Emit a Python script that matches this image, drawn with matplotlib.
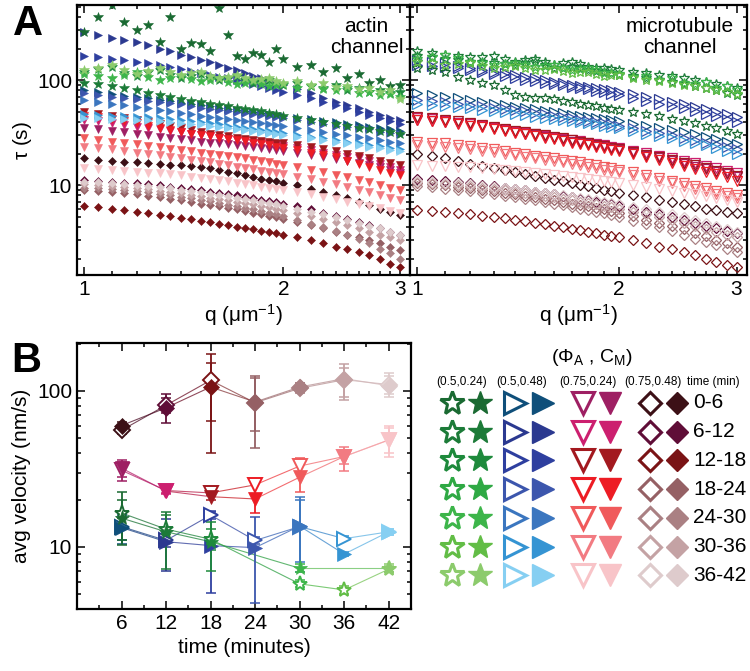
import numpy as np
import matplotlib.pyplot as plt
import matplotlib.ticker as ticker
from matplotlib.colors import to_rgb

plt.rcParams['font.family'] = ['Liberation Sans', 'DejaVu Sans']

# =============================================================================
# DATA
# =============================================================================
# colour per time window (row), one palette per (Phi_A, C_M) condition
time_labels = ['0-6', '6-12', '12-18', '18-24', '24-30', '30-36', '36-42']
cond_labels = ['(0.5,0.24)', '(0.5,0.48)', '(0.75,0.24)', '(0.75,0.48)']
greens = ['#1a6a32', '#1c7b38', '#1e8a3c', '#2fa944', '#3db54a', '#62bd46', '#8ccb6c']
blues = ['#0f4f7a', '#2b3990', '#2e3f9f', '#3c56ad', '#3b76bf', '#3594d3', '#86cff2']
reds = ['#9e1f63', '#cc1f6f', '#a3191f', '#ed1c24', '#f05a5b', '#f27b82', '#f8c4c8']
mauves = ['#3c1016', '#5f0d37', '#7a1315', '#956064', '#aa8083', '#c4a2a4', '#decbcc']

q = [1.0, 1.05, 1.1, 1.15, 1.2, 1.25, 1.3, 1.35, 1.4, 1.45, 1.5, 1.55, 1.6, 1.65,
     1.7, 1.75, 1.8, 1.85, 1.9, 1.95, 2.0, 2.1, 2.2, 2.3, 2.4, 2.5, 2.6, 2.7,
     2.8, 2.9, 3.0]

# ---- panel A, actin channel (filled markers) ----
actin_star_rows = [0, 1, 2, 4, 6]
actin_star = [
    [290, 400, 520, 355, 300, 335, 230, 400, 200, 225, 220, 190, 485, 270, 170, 160, 180, 175, 150, 200, 160,
     135, 140, 120, 130, 105, 115, 95, 100, 88, 90],
    [95, 92, 88, 84, 80, 76, 72, 69, 66, 64, 62, 60, 58, 56.5, 55, 53.5, 52, 50.5, 49, 47.5, 46,
     44, 42, 40, 38.5, 37, 35, 34, 33, 32, 31],
    [120, 128, 135, 118, 110, 120, 125, 112, 105, 110, 115, 104, 100, 106, 110, 100, 95, 98, 100, 93, 90,
     95, 88, 85, 90, 80, 84, 78, 80, 75, 78],
    [115, 110, 105, 112, 120, 108, 100, 104, 110, 102, 98, 100, 104, 96, 92, 95, 98, 92, 88, 90, 92,
     85, 88, 82, 80, 84, 76, 78, 72, 74, 70],
    [125, 132, 140, 125, 115, 122, 130, 120, 112, 116, 120, 110, 105, 108, 112, 104, 100, 102, 104, 98, 95,
     98, 90, 94, 86, 88, 82, 84, 78, 80, 66],
]
actin_tri_rows = [0, 1, 2, 3, 4, 5, 6]
actin_tri = [
    [80, 77, 74, 71, 69, 67, 65, 63, 61, 59.5, 58, 56.5, 55, 53.5, 52, 51, 50, 49, 48, 47, 46,
     44, 42.5, 41, 39.7, 38.4, 37.3, 36.2, 35.1, 34.2, 33.2],
    [290, 270, 250, 240, 230, 215, 200, 188, 175, 165, 155, 148, 140, 132, 125, 118, 110, 105, 100, 95, 90,
     82, 75, 68, 62, 58, 54, 50, 47, 44, 42],
    [170, 165, 160, 155, 150, 145, 140, 134, 128, 123, 118, 113, 108, 104, 100, 96, 92, 88, 85, 81, 78,
     72, 67, 62, 58, 54, 50, 47, 44, 41, 38],
    [75, 72, 70, 68, 66, 64, 62, 60.5, 59, 57, 55, 53.5, 52, 51, 50, 48.7, 47.5, 46.5, 45.5, 44.5, 43.5,
     42, 40, 38.5, 37, 36, 35, 34, 32.5, 31.5, 30.5],
    [65, 62, 60, 58, 56, 54, 52, 50.5, 49, 47.5, 46, 45, 44, 43, 42, 41, 40, 39, 38, 37.2, 36.5,
     35, 33.5, 32, 31, 30, 29, 28, 27, 26, 25],
    [48, 47, 46, 45.5, 45, 44.5, 44, 43, 42, 41, 40, 39, 38, 37, 36, 35.2, 34.5, 33.7, 33, 32.2, 31.5,
     30, 29, 28, 27, 26, 25, 24.2, 23.5, 22.8, 22],
    [44, 43.5, 43, 42.5, 42, 41.5, 41, 40.2, 39.5, 38.7, 38, 37, 36, 35.2, 34.5, 33.7, 33, 32.2, 31.5, 30.7, 30,
     29, 28, 27, 26, 25, 24, 23, 22.5, 21.8, 21],
]
actin_down_rows = [0, 1, 2, 3, 4, 5, 6]
actin_down = [
    [35, 34, 33, 32, 31, 30, 29, 28.2, 27.5, 26.7, 26, 25.5, 25, 24.5, 24, 23.5, 23, 22.5, 22, 21.5, 21,
     20.2, 19.5, 18.5, 17.8, 17, 16.3, 15.5, 14.8, 14, 13],
    [42, 40.5, 39, 37.5, 36, 35, 34, 33, 32, 31, 30, 29.2, 28.5, 27.7, 27, 26.2, 25.5, 25, 24.5, 24, 23.5,
     22.5, 21.5, 20.5, 19.5, 18.7, 18, 17, 16, 15, 14],
    [50, 48, 46, 44, 42, 40, 38, 36.5, 35, 33.5, 32, 31, 30, 29.2, 28.5, 27.7, 27, 26.5, 26, 25.5, 25,
     24, 23, 22, 21, 20, 19, 18, 17, 16.2, 15.5],
    [46, 44.5, 43, 41, 39, 37, 35, 33.5, 32, 31, 30, 29.2, 28.5, 27.7, 27, 26.2, 25.5, 24.7, 24, 23.2, 22.5,
     21.5, 20.5, 19.5, 18.5, 17, 16, 15, 14, 13.2, 12.5],
    [28, 27, 26, 25.2, 24.5, 23.7, 23, 22.2, 21.5, 21, 20.5, 20, 19.5, 19, 18.5, 18, 17.5, 17, 16.5, 16, 15.5,
     14.8, 14, 13.3, 12.5, 12, 11.3, 10.7, 10.1, 9.5, 9],
    [23, 22.5, 22, 21.2, 20.5, 20, 19.5, 18.7, 18, 17.5, 17, 16.5, 16, 15.5, 15, 14.6, 14.2, 13.8, 13.5, 13.1, 12.8,
     12, 11.4, 10.8, 10.2, 9.6, 9.1, 8.6, 8.1, 7.6, 7.2],
    [14.5, 14.2, 14, 13.7, 13.5, 13.2, 13, 12.7, 12.4, 12.1, 11.8, 11.5, 11.2, 10.9, 10.6, 10.3, 10, 9.7, 9.5, 9.2, 9,
     8.6, 8.2, 7.8, 7.4, 7, 6.7, 6.4, 6.1, 5.7, 5.4],
]
actin_diam_rows = [0, 1, 2, 3, 4, 5, 6]
actin_diam = [
    [18, 17.5, 17, 16.7, 16.5, 16.2, 16, 15.7, 15.5, 15.2, 15, 14.5, 14, 13.5, 13, 12.5, 12, 11.6, 11.3, 10.9, 10.5,
     10, 9.3, 8.7, 8, 7.5, 7, 6.5, 6, 5.6, 5.2],
    [11.2, 11, 10.8, 10.6, 10.4, 10.2, 10, 9.7, 9.5, 9.2, 9, 8.7, 8.5, 8.2, 8, 7.7, 7.5, 7.3, 7.1, 6.9, 6.7,
     6.3, 5.9, 5.5, 5.1, 4.8, 4.5, 4.2, 3.9, 3.6, 3.4],
    [6.4, 6.2, 6, 5.8, 5.6, 5.4, 5.2, 5.05, 4.9, 4.75, 4.6, 4.45, 4.3, 4.17, 4.05, 3.92, 3.8, 3.7, 3.6, 3.5, 3.4,
     3.2, 3, 2.8, 2.6, 2.45, 2.3, 2.15, 2, 1.8, 1.66],
    [9, 8.8, 8.6, 8.4, 8.2, 7.95, 7.7, 7.45, 7.2, 6.95, 6.7, 6.5, 6.3, 6.1, 5.9, 5.7, 5.5, 5.3, 5.1, 4.95, 4.8,
     4.5, 4.2, 3.9, 3.6, 3.4, 3.2, 3, 2.8, 2.6, 2.4],
    [9.5, 9.35, 9.2, 9, 8.8, 8.55, 8.3, 8.05, 7.8, 7.55, 7.3, 7.05, 6.8, 6.55, 6.3, 6.1, 5.9, 5.7, 5.5, 5.3, 5.1,
     4.7, 4.3, 4, 3.7, 3.4, 3.1, 2.8, 2.5, 2.25, 2.0],
    [10.2, 10, 9.8, 9.6, 9.4, 9.15, 8.9, 8.65, 8.4, 8.15, 7.9, 7.65, 7.4, 7.2, 7, 6.8, 6.6, 6.4, 6.2, 6, 5.8,
     5.4, 5.1, 4.8, 4.5, 4.2, 3.9, 3.6, 3.4, 3.2, 3.0],
    [10.8, 10.65, 10.5, 10.3, 10.1, 9.85, 9.6, 9.35, 9.1, 8.85, 8.6, 8.35, 8.1, 7.85, 7.6, 7.4, 7.2, 7, 6.8, 6.6, 6.4,
     6, 5.6, 5.3, 5, 4.7, 4.4, 4.1, 3.9, 3.6, 3.4],
]

# ---- panel A, microtubule channel (open markers) ----
mt_star_rows = [0, 1, 2, 4, 5]
mt_star = [
    [130, 126, 120, 108, 100, 95, 90, 80, 72, 70, 68, 67, 66, 64, 62, 60, 58, 56.5, 55, 53.5, 52,
     50, 48, 46, 43, 41, 39, 37, 35, 33, 31],
    [190, 182, 175, 170, 165, 168, 170, 160, 150, 155, 160, 150, 140, 145, 150, 142, 135, 132, 130, 128, 125,
     120, 118, 112, 110, 104, 100, 96, 92, 88, 85],
    [170, 165, 160, 155, 150, 148, 145, 142, 140, 145, 150, 140, 130, 132, 135, 130, 125, 122, 120, 116, 112,
     110, 104, 100, 96, 92, 88, 84, 80, 76, 72],
    [160, 168, 175, 162, 150, 145, 140, 142, 145, 140, 135, 138, 140, 132, 125, 128, 130, 124, 118, 116, 115,
     108, 110, 100, 104, 95, 92, 96, 85, 88, 80],
    [150, 145, 140, 142, 145, 138, 132, 135, 138, 130, 125, 126, 128, 123, 118, 119, 120, 115, 110, 111, 112,
     104, 100, 98, 94, 90, 88, 84, 80, 78, 74],
]
mt_tri_rows = [0, 1, 2, 3, 5]
mt_tri = [
    [75, 72.5, 70, 67.5, 65, 62.5, 60, 58, 56, 54.5, 53, 51.5, 50, 48.5, 47, 45.7, 44.5, 43.5, 42.5, 41.5, 40.5,
     38.5, 37, 35, 33.5, 32, 30.5, 29, 27.5, 26, 24.5],
    [155, 150, 145, 138, 130, 125, 120, 116, 112, 108, 104, 100, 97, 94, 91, 88.5, 86, 84, 82, 80, 78,
     74, 70, 66, 62, 59, 56, 53, 50, 47.5, 45],
    [140, 138, 135, 130, 125, 120, 115, 110, 105, 101, 98, 95, 92, 89.5, 87, 84.5, 82, 79.5, 77, 74.5, 72,
     68, 64, 60, 57, 54, 51, 48, 45.5, 43, 40],
    [65, 63.5, 62, 60, 58, 56.5, 55, 53.5, 52, 50.5, 49, 47.5, 46, 44.7, 43.5, 42.2, 41, 40, 39, 38, 37,
     35, 33, 31.5, 30, 28.5, 27, 25.5, 24.5, 23, 22],
    [60, 58.5, 57, 55.5, 54, 52.5, 51, 49.5, 48, 46.5, 45, 44, 43, 42, 41, 40, 39, 38, 37, 36, 35,
     33, 31, 29.5, 28, 26.5, 25, 24, 22.5, 21, 20],
]
mt_down_rows = [0, 1, 2, 3, 4, 5, 6]
mt_down = [
    [42, 41, 40, 39, 38, 36.5, 35, 33.5, 32, 31, 30, 29, 28, 27, 26, 25.2, 24.5, 23.7, 23, 22.2, 21.5,
     20.3, 19, 18, 17, 16, 15, 14.2, 13.4, 12.7, 12],
    [44, 42.5, 41, 39.5, 38, 36.5, 35, 33.7, 32.5, 31.5, 30.5, 29.5, 28.5, 27.7, 27, 26.2, 25.5, 24.7, 24, 23.2, 22.5,
     21.3, 20.1, 19, 18, 17, 16.2, 15.4, 14.6, 13.8, 13],
    [45, 43.5, 42, 40.5, 39, 37.5, 36, 34.5, 33, 32, 31, 30, 29, 28, 27, 26, 25, 24.2, 23.5, 22.7, 22,
     20.8, 19.6, 18.5, 17.4, 16.4, 15.5, 14.6, 13.8, 13, 12.2],
    [42, 41, 40, 38.5, 37, 35.5, 34, 32.7, 31.5, 30.5, 29.5, 28.5, 27.5, 26.5, 25.5, 24.7, 24, 23.2, 22.5, 21.7, 21,
     19.7, 18.5, 17.4, 16.3, 15.3, 14.4, 13.5, 12.7, 11.9, 11],
    [26, 25.5, 25, 24.2, 23.5, 22.7, 22, 21.2, 20.5, 19.8, 19.2, 18.6, 18, 17.5, 17, 16.5, 16, 15.5, 15, 14.5, 14.1,
     13.3, 12.5, 11.8, 11.1, 10.5, 9.9, 9.4, 8.9, 8.4, 8],
    [24, 23.5, 23, 22.5, 22, 21.3, 20.6, 20, 19.3, 18.6, 18, 17.5, 17, 16.5, 16, 15.5, 15, 14.5, 14.1, 13.7, 13.3,
     12.5, 11.8, 11.1, 10.5, 9.9, 9.3, 8.8, 8.3, 7.9, 7.5],
    [15.5, 15.3, 15.2, 15, 14.8, 14.5, 14.3, 14, 13.8, 13.5, 13.2, 12.9, 12.6, 12.3, 12, 11.7, 11.5, 11.2, 11, 10.7, 10.5,
     10, 9.6, 9.2, 8.8, 8.5, 8.2, 7.9, 7.6, 7.3, 7.0],
]
mt_diam_rows = [0, 1, 2, 3, 4, 5, 6]
mt_diam = [
    [20, 19, 18, 17, 16, 15.2, 14.5, 13.9, 13.3, 12.7, 12.2, 11.7, 11.3, 10.9, 10.5, 10.1, 9.8, 9.4, 9.1, 8.8, 8.5,
     8.1, 7.7, 7.3, 6.9, 6.6, 6.3, 6.0, 5.8, 5.6, 5.4],
    [11.5, 11.2, 11, 10.7, 10.4, 10.1, 9.8, 9.5, 9.2, 8.95, 8.7, 8.45, 8.2, 7.95, 7.7, 7.45, 7.2, 7, 6.8, 6.6, 6.4,
     6, 5.6, 5.3, 5, 4.7, 4.4, 4.1, 3.9, 3.7, 3.5],
    [5.8, 5.7, 5.6, 5.45, 5.3, 5.15, 5, 4.85, 4.7, 4.55, 4.4, 4.25, 4.1, 3.97, 3.85, 3.72, 3.6, 3.5, 3.4, 3.3, 3.2,
     3, 2.8, 2.6, 2.45, 2.3, 2.15, 2.0, 1.88, 1.76, 1.66],
    [10.5, 10.25, 10, 9.7, 9.4, 9.1, 8.8, 8.5, 8.2, 7.95, 7.7, 7.45, 7.2, 6.95, 6.7, 6.5, 6.3, 6.1, 5.9, 5.7, 5.5,
     5.1, 4.7, 4.4, 4.1, 3.8, 3.5, 3.3, 3.0, 2.8, 2.6],
    [9.8, 9.55, 9.3, 9.05, 8.8, 8.5, 8.2, 7.95, 7.7, 7.45, 7.2, 6.95, 6.7, 6.45, 6.2, 6, 5.8, 5.6, 5.4, 5.2, 5,
     4.6, 4.3, 4, 3.7, 3.4, 3.1, 2.9, 2.7, 2.5, 2.3],
    [10.8, 10.55, 10.3, 10.05, 9.8, 9.5, 9.2, 8.95, 8.7, 8.45, 8.2, 7.95, 7.7, 7.45, 7.2, 7, 6.8, 6.6, 6.4, 6.2, 6,
     5.6, 5.3, 5, 4.7, 4.4, 4.1, 3.8, 3.6, 3.4, 3.2],
    [11, 10.8, 10.6, 10.4, 10.2, 9.95, 9.7, 9.45, 9.2, 8.95, 8.7, 8.45, 8.2, 8, 7.8, 7.6, 7.4, 7.2, 7, 6.8, 6.6,
     6.2, 5.9, 5.6, 5.3, 5, 4.7, 4.4, 4.1, 3.85, 3.6],
]

# ---- panel B, average velocity (nm/s) per time window ----
nan = np.nan
t_min = [6, 12, 18, 24, 30, 36, 42]
v_star_f = [15.3, 12.5, 10.8, nan, 7.3, nan, 7.3]
v_star_f_lo = [10.3, 7.2, 7.0, nan, 6.9, nan, 6.9]
v_star_f_hi = [22.5, 16.8, 14.5, nan, 7.8, nan, 7.8]
v_star_o = [16.5, 13.0, 11.2, nan, 5.8, 5.3, 7.2]
v_star_o_lo = [11.0, 11.0, 9.5, nan, 5.5, 5.0, 6.9]
v_star_o_hi = [20.0, 16.0, 13.0, nan, 6.1, 5.6, 7.6]
v_tri_f = [13.3, 10.8, 10.2, 9.9, 13.6, 9.0, 12.5]
v_tri_f_lo = [10.5, 7.0, 5.1, 4.4, 6.9, 8.7, 12.0]
v_tri_f_hi = [16.0, 15.0, 16.9, 15.6, 21.0, 9.3, 13.0]
v_tri_o = [13.5, 11.0, 16.0, 11.0, 13.5, 11.3, 12.5]
v_tri_o_lo = [11.0, 10.0, 15.2, 10.4, 8.0, 11.0, 12.0]
v_tri_o_hi = [16.5, 12.5, 16.8, 11.6, 20.0, 11.7, 13.0]
v_down_f = [32, 22.8, 21, 20.3, 28, 38, 48.5]
v_down_f_lo = [26.5, 22, 20, 16.5, 22.5, 30.7, 38]
v_down_f_hi = [36, 24, 22.5, 22, 30, 44, 60]
v_down_o = [31, 23, 22.2, 25, 33, 38, 48.5]
v_down_o_lo = [28, 22.2, 21.5, 22, 30, 34, 40]
v_down_o_hi = [35, 24, 23, 27, 37, 42, 58]
v_diam_f = [60, 78, 106, 85, 106, 120, 108]
v_diam_f_lo = [57, 62, 40, 43, 97, 88, 92]
v_diam_f_hi = [63, 95, 173, 125, 113, 149, 130]
v_diam_o = [56, 81, 117, 84, 104, 118, 110]
v_diam_o_lo = [53, 72, 64, 55, 98, 92, 95]
v_diam_o_hi = [59, 90, 150, 121, 112, 140, 125]

# =============================================================================
# FIGURE
# =============================================================================
W, H = 750, 671
fig = plt.figure(figsize=(W / 100, H / 100), dpi=100)
fs = 15


def px_axes(x0, y0, x1, y1):
    return fig.add_axes([x0 / W, 1 - y1 / H, (x1 - x0) / W, (y1 - y0) / H])


def style_axes(ax):
    for s in ax.spines.values():
        s.set_linewidth(1.6)
    ax.tick_params(which='both', direction='in', top=True, right=True,
                   labelsize=fs, width=1.1)
    ax.tick_params(which='major', length=6)
    ax.tick_params(which='minor', length=3)


def style_q_axes(ax):
    ax.set_xscale('log')
    ax.set_yscale('log')
    ax.set_xlim(0.975, 3.11)
    ax.set_ylim(1.4, 520)
    ax.set_xticks([1, 2, 3], ['1', '2', '3'])
    ax.xaxis.set_minor_locator(ticker.FixedLocator(
        [1.1, 1.2, 1.3, 1.4, 1.5, 1.6, 1.7, 1.8, 1.9,
         2.1, 2.2, 2.3, 2.4, 2.5, 2.6, 2.7, 2.8, 2.9]))
    ax.xaxis.set_minor_formatter(ticker.NullFormatter())
    ax.set_yticks([10, 100], ['10', '100'])
    ax.yaxis.set_minor_locator(ticker.LogLocator(subs=range(2, 10)))
    ax.yaxis.set_minor_formatter(ticker.NullFormatter())
    style_axes(ax)
    ax.set_xlabel(r'q ($\mathregular{\mu m^{-1}}$)', fontsize=fs, labelpad=2)


def draw_set(ax, sets, filled):
    for marker, ms, palette, rows, data in sets:
        for r, tau in zip(rows, data):
            c = palette[r]
            ax.plot(q[:len(tau)], tau, ls='none', marker=marker, ms=ms,
                    mfc=c if filled else 'none', mec=c,
                    mew=0.4 if filled else 0.9)


# ---- panel A left: actin ----
axL = px_axes(77, 5, 410, 275)
draw_set(axL, [('D', 4.2, mauves, actin_diam_rows, actin_diam),
               ('v', 6, reds, actin_down_rows, actin_down),
               ('>', 6, blues, actin_tri_rows, actin_tri),
               ('*', 7, greens, actin_star_rows, actin_star)], True)
style_q_axes(axL)
axL.set_ylabel(r'$\mathregular{\tau}$ (s)', fontsize=fs, labelpad=2)
axL.text(0.87, 0.955, 'actin\nchannel', transform=axL.transAxes,
         ha='center', va='top', fontsize=fs, linespacing=1.15)

# ---- panel A right: microtubule ----
axR = px_axes(410, 5, 747, 275)
draw_set(axR, [('D', 4.6, mauves, mt_diam_rows, mt_diam),
               ('v', 6.5, reds, mt_down_rows, mt_down),
               ('>', 6.5, blues, mt_tri_rows, mt_tri),
               ('*', 7, greens, mt_star_rows, mt_star)], False)
style_q_axes(axR)
axR.tick_params(which='both', labelleft=False)
axR.text(0.80, 0.955, 'microtubule\nchannel', transform=axR.transAxes,
         ha='center', va='top', fontsize=fs, linespacing=1.15)

fig.text(13 / W, 1 - 35 / H, 'A', fontsize=30, fontweight='bold', va='baseline')
fig.text(11 / W, 1 - 372 / H, 'B', fontsize=30, fontweight='bold', va='baseline')

# ---- panel B ----
axB = px_axes(77, 343, 411, 609)
series_B = [
    ('D', 8.5, mauves, v_diam_o, v_diam_o_lo, v_diam_o_hi, False),
    ('D', 8.5, mauves, v_diam_f, v_diam_f_lo, v_diam_f_hi, True),
    ('v', 10, reds, v_down_o, v_down_o_lo, v_down_o_hi, False),
    ('v', 10, reds, v_down_f, v_down_f_lo, v_down_f_hi, True),
    ('>', 10, blues, v_tri_o, v_tri_o_lo, v_tri_o_hi, False),
    ('>', 10, blues, v_tri_f, v_tri_f_lo, v_tri_f_hi, True),
    ('*', 11, greens, v_star_o, v_star_o_lo, v_star_o_hi, False),
    ('*', 11, greens, v_star_f, v_star_f_lo, v_star_f_hi, True),
]
for marker, ms, palette, v, lo, hi, filled in series_B:
    idx = [i for i in range(len(t_min)) if not np.isnan(v[i])]
    for a, b in zip(idx[:-1], idx[1:]):
        c = (np.array(to_rgb(palette[a])) + np.array(to_rgb(palette[b]))) / 2
        axB.plot([t_min[a], t_min[b]], [v[a], v[b]], color=c, lw=0.8,
                 alpha=0.75, zorder=2)
    for i in idx:
        c = palette[i]
        axB.errorbar([t_min[i]], [v[i]], yerr=[[v[i] - lo[i]], [hi[i] - v[i]]],
                     fmt='none', ecolor=c, elinewidth=1.3, capsize=3.5,
                     capthick=1.1, zorder=3)
        axB.plot([t_min[i]], [v[i]], ls='none', marker=marker, ms=ms,
                 mfc=c if filled else 'white', mec=c,
                 mew=0.5 if filled else 1.4, zorder=4)

axB.set_yscale('log')
axB.set_xlim(0, 45)
axB.set_ylim(4, 203)
axB.set_xticks(t_min, [str(t) for t in t_min])
axB.xaxis.set_minor_locator(ticker.FixedLocator([3, 9, 15, 21, 27, 33, 39]))
axB.set_yticks([10, 100], ['10', '100'])
axB.yaxis.set_minor_locator(ticker.LogLocator(subs=range(2, 10)))
axB.yaxis.set_minor_formatter(ticker.NullFormatter())
style_axes(axB)
axB.set_xlabel('time (minutes)', fontsize=fs, labelpad=4)
axB.set_ylabel('avg velocity (nm/s)', fontsize=fs, labelpad=4)

# ---- panel B key ----
axK = fig.add_axes([0, 0, 1, 1])
axK.set_xlim(0, W)
axK.set_ylim(H, 0)
axK.axis('off')
axK.text(592, 357, r'($\mathregular{\Phi_A}$ , $\mathregular{C_M}$)',
         ha='center', va='center', fontsize=14)
for xc, lab in zip([462, 522, 588, 653], cond_labels):
    axK.text(xc, 382, lab, ha='center', va='center', fontsize=8.5)
axK.text(713, 382, 'time (min)', ha='center', va='center', fontsize=8.5)
key_cols = [(452, 480, '*', 18, greens), (515, 543, '>', 16, blues),
            (583, 610, 'v', 16, reds), (650, 677, 'D', 11.5, mauves)]
for r, lab in enumerate(time_labels):
    yk = 403 + r * 28.7
    for xo, xf, marker, ms, palette in key_cols:
        c = palette[r]
        axK.plot([xo], [yk], marker=marker, ms=ms, mfc='white', mec=c, mew=2.2)
        axK.plot([xf], [yk], marker=marker, ms=ms, mfc=c, mec=c, mew=1)
    axK.text(693, yk, lab, ha='left', va='center', fontsize=fs)

fig.savefig('out.png', dpi=100)
